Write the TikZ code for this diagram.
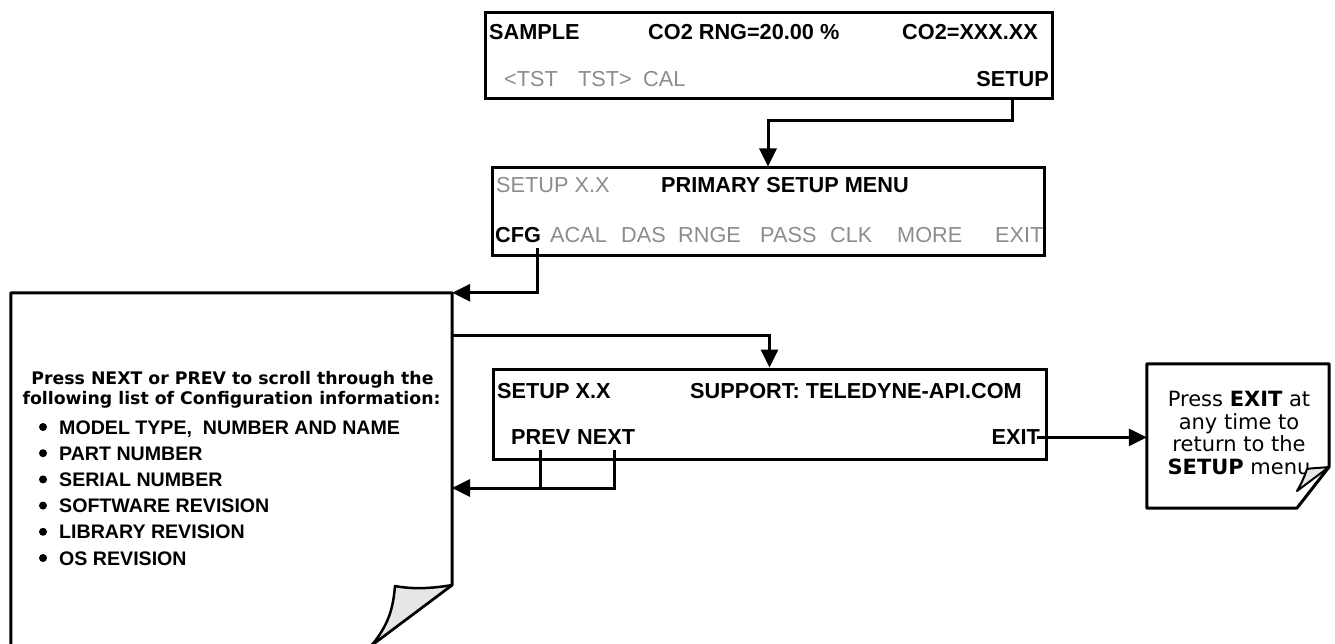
\documentclass[tikz,border=0pt]{standalone}
\usepackage{fontspec}
\setmainfont{Liberation Sans}
\newfontfamily\verdana{DejaVu Sans}
\usetikzlibrary{arrows.meta}
\definecolor{lcdgray}{HTML}{8C8C8C}
\definecolor{foldgray}{HTML}{E6E6E6}
\newcommand{\lcdfont}{\fontsize{21.7}{26}\selectfont}
\newcommand{\hintfont}{\verdana\bfseries\fontsize{17.3}{20}\selectfont}
\newcommand{\notefont}{\verdana\fontsize{21}{22.7}\selectfont}
\newcommand{\listfont}{\bfseries\fontsize{19.6}{24}\selectfont}

\begin{document}
\begin{tikzpicture}[x=1pt,y=-1pt,
  lcd/.style={draw,line width=3pt,inner sep=0pt},
  keylabel/.style={inner sep=0pt,font=\lcdfont\bfseries},
  dimlabel/.style={inner sep=0pt,font=\lcdfont,text=lcdgray},
  wire/.style={line width=3pt},
  flow/.style={wire,-{Triangle[length=18pt,width=17pt]}},
  docpage/.style={inner sep=0pt},
  edge line/.style={line width=3pt,line join=round},
  curl/.style={fill=foldgray,line width=2.5pt,line join=round}]
\useasboundingbox (0,0) rectangle (1335,644);

\node[lcd,minimum width=567pt,minimum height=86pt] (sample) at (768.5,56) {};
\node[keylabel,anchor=base west] (samplbl) at (489,39.8) {SAMPLE};
\node[keylabel,anchor=base west] (rnglbl) at (648,39.8) {CO2 RNG=20.00 \%};
\node[keylabel,anchor=base west] (conclbl) at (902,39.8) {CO2=XXX.XX};
\node[dimlabel,anchor=base west] (tstlft) at (504,86.8) {<TST};
\node[dimlabel,anchor=base west] (tstrgt) at (578,86.8) {TST>};
\node[dimlabel,anchor=base west] (callbl) at (643,86.8) {CAL};
\node[keylabel,anchor=base east] (setupkey) at (1049,86.8) {SETUP};

\node[lcd,minimum width=552pt,minimum height=88pt] (menu) at (768,212) {};
\node[dimlabel,anchor=base west] (menuver) at (496,192.8) {SETUP X.X};
\node[keylabel,anchor=base west] (menutitle) at (661,192.8) {PRIMARY SETUP MENU};
\node[keylabel,anchor=base west] (cfgkey) at (495,242.8) {CFG};
\foreach \lbl/\xpos in {ACAL/550,DAS/621,RNGE/678,PASS/760,CLK/830,MORE/897,EXIT/995}
  \node[dimlabel,anchor=base west] (menu\lbl) at (\xpos,242.8) {\lbl};

\node[lcd,minimum width=553pt,minimum height=90pt] (support) at (769.5,414) {};
\node[keylabel,anchor=base west] (supportver) at (497,398.8) {SETUP X.X};
\node[keylabel,anchor=base west] (supporttitle) at (690,398.8) {SUPPORT: TELEDYNE-API.COM};
\node[keylabel,anchor=base west] (prevkey) at (511,444.8) {PREV};
\node[keylabel,anchor=base west] (nextkey) at (577,444.8) {NEXT};
\node[keylabel,anchor=base east] (exitkey) at (1040,444.8) {EXIT};

\node[docpage,minimum width=441pt,minimum height=357pt] (cfginfo) at (231.5,471.5) {};
\draw[edge line] (cfginfo.north west) -- (cfginfo.north east) -- (452,585) -- (365,650) -- (cfginfo.south west) -- cycle;
\node[font=\hintfont,inner sep=0pt,anchor=base] (hintone) at (232.5,384.3) {Press NEXT or PREV to scroll through the};
\node[font=\hintfont,inner sep=0pt,anchor=base] (hinttwo) at (231.5,404.3) {following list of Configuration information:};
\foreach \entry [count=\i] in {{MODEL TYPE,~ NUMBER AND NAME},PART NUMBER,SERIAL NUMBER,SOFTWARE REVISION,LIBRARY REVISION,OS REVISION}{
  \node[font=\listfont,inner sep=0pt,anchor=base west] (entry\i) at (59,{407.8+26.2*\i}) {\entry};
  \fill (43,{400.8+26.2*\i}) circle (4pt);
}
\filldraw[curl] (452,585) .. controls (430,589) and (410,589) .. (395,586) .. controls (393,610) and (388,625) .. (372,645) -- cycle;

\node[docpage,minimum width=182pt,minimum height=144pt] (exitnote) at (1238,436) {};
\draw[edge line] (exitnote.north west) -- (exitnote.north east) -- (1329,467) -- (1297,508) -- (exitnote.south west) -- cycle;
\node[font=\notefont,align=center,inner sep=0pt] (notetext) at (1239,433) {Press \textbf{EXIT} at\\any time to\\return to the\\\textbf{SETUP} menu};
\filldraw[curl,line width=2pt] (1329,467) .. controls (1320,468) and (1312,468) .. (1307,469) .. controls (1304,478) and (1301,484) .. (1297,491) -- cycle;

\draw[flow] (setupkey.south |- sample.south) -- ++(0,20) -| (menu.north);
\draw[flow] ([xshift=-4pt,yshift=-5pt]cfgkey.south east) |- (cfginfo.north east);
\coordinate (infotap) at (452,335);
\draw[flow] (infotap) -| (support.north);
\coordinate (backtap) at (452,488);
\draw[wire] ([yshift=-5pt]prevkey.south) -- (prevkey.south |- backtap);
\draw[flow] ([xshift=8pt,yshift=-5pt]nextkey.south) |- (backtap);
\draw[flow] ([xshift=-3pt]exitkey.east) -- (exitkey.east -| exitnote.west);
\end{tikzpicture}
\end{document}
